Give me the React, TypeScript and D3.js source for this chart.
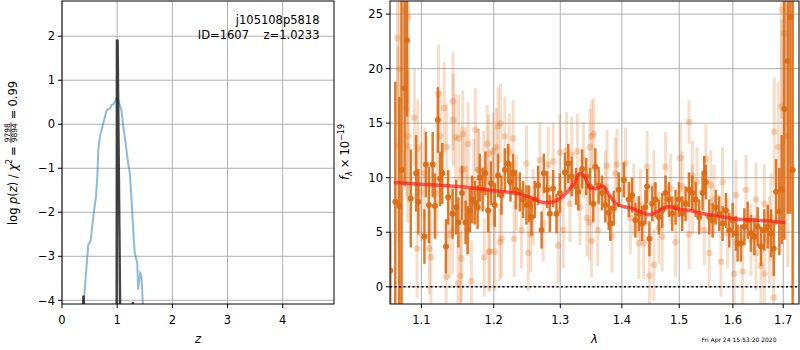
import React, { useEffect, useRef } from "react";
import * as d3 from "d3";

// ---- p(z) panel ----
const zTicks = [0, 1, 2, 3, 4];
const logpTicks = [-4, -3, -2, -1, 0, 1, 2];

// blue: log p(z) of the fit
const zFit = [0.386, 0.43, 0.476, 0.52, 0.567, 0.616, 0.64, 0.658, 0.688, 0.748, 0.81, 0.87, 0.9, 0.93, 0.99, 1.02, 1.08, 1.11, 1.14, 1.2, 1.23, 1.26, 1.3, 1.32, 1.364, 1.38, 1.416, 1.44, 1.47];
const logpFit = [-4.2, -3.46, -2.74, -2.64, -2.1, -1.64, -1.19, -0.58, -0.28, 0.02, 0.32, 0.36, 0.44, 0.45, 0.59, 0.55, 0.3, -0.05, -0.3, -0.9, -1.11, -1.72, -2.6, -2.93, -3.16, -3.76, -3.39, -3.45, -4.2];

// dark: narrow p(z)
const zNarrow = [0.37, 0.388, 0.392, 0.41, 0.99, 0.995, 1.008, 1.06, 1.27, 1.285, 1.3];
const logpNarrow = [-5, -3.92, -3.92, -5, -5, 1.9, 1.9, -5, -5, -4.04, -5];

// ---- spectrum panel ----
const waveTicks = [1.1, 1.2, 1.3, 1.4, 1.5, 1.6, 1.7];
const fluxTicks = [0, 5, 10, 15, 20, 25];

const darkWave = [
  1.0595, 1.066, 1.071, 1.074, 1.078, 1.081, 1.086, 1.093, 1.096, 1.104, 1.106, 1.11, 1.115, 1.118, 1.122, 1.125, 1.128, 1.133, 1.136, 1.142, 1.147, 1.15, 1.155, 1.16, 1.163, 1.166, 1.169, 1.173, 1.177, 1.18, 1.184, 1.188, 1.192, 1.196,
  1.2015, 1.2063, 1.2112, 1.2161, 1.221, 1.2244, 1.2283, 1.2322, 1.2382, 1.2432, 1.2482, 1.2522, 1.2558, 1.2608, 1.2658, 1.2711, 1.2746, 1.2797, 1.2838, 1.2889, 1.2941, 1.2994, 1.3073, 1.3126, 1.318, 1.3249, 1.3286, 1.3346, 1.3413, 1.3473, 1.3527,
  1.356, 1.3614, 1.3669, 1.3724, 1.3781, 1.3807, 1.3864, 1.3948, 1.4033, 1.4117, 1.4173, 1.423, 1.4288, 1.4345, 1.4403, 1.4432, 1.4472, 1.4519, 1.4577, 1.4637, 1.4696, 1.4755, 1.4815, 1.4874, 1.4934, 1.4995, 1.5054, 1.5115, 1.5177, 1.5237, 1.5299,
  1.5365, 1.5427, 1.5458, 1.5489, 1.5552, 1.5614, 1.5677, 1.574, 1.5803, 1.5867, 1.593, 1.5995, 1.6059, 1.6092, 1.6158, 1.6223, 1.6288, 1.6353, 1.6419, 1.6485, 1.6551, 1.6618, 1.6685, 1.6752, 1.6806, 1.6853, 1.692, 1.6968, 1.7023, 1.7091, 1.7146, 1.7194,
];
const darkFlux = [
  1.5, 7.8, 7.4, 10.7, 18.2, 22.6, 8.1, 10.4, 7.8, 4.6, 11.2, 7.5, 11.2, 7.4, 15.3, 9.9, 10.4, 3.7, 8.2, 6.7, 7.3, 5.9, 8.6, 5.9, 5.2, 7.0, 8.0, 7.7, 7.3, 10.0, 8.9, 10.4, 7.0, 9.5,
  7.5, 10.2, 8.4, 10.7, 11.3, 9.6, 10.4, 8.9, 8.7, 8.0, 7.5, 7.6, 6.4, 8.0, 9.3, 5.2, 10.4, 8.9, 6.7, 9.0, 6.7, 8.6, 10.5, 11.3, 10.1, 9.2, 8.7, 10.8, 10.1, 9.2, 7.6,
  11.0, 9.3, 8.6, 7.5, 6.8, 5.8, 7.2, 8.9, 9.8, 8.0, 8.4, 6.1, 6.7, 5.8, 7.3, 9.2, 4.4, 7.6, 8.0, 6.4, 7.0, 8.6, 8.0, 6.7, 7.3, 8.0, 6.7, 7.6, 8.9, 8.6, 8.0,
  6.4, 8.6, 10.4, 9.6, 6.4, 6.1, 7.3, 6.7, 5.8, 7.0, 5.2, 6.1, 4.9, 4.0, 4.0, 5.5, 6.1, 4.9, 4.6, 5.5, 3.7, 5.2, 5.5, 4.9, 3.5, 8.7, 6.9, 8.9, 16.3, 20.7, 24.7, 10.7,
];
const darkErr = [
  3.5, 11, 10, 16, 9, 7, 4.5, 3.5, 3, 2.5, 3, 3.5, 3, 3, 3, 2.5, 2.8, 2.5, 2.5, 2.3, 2.5, 2.3, 2.5, 2.0, 2.2, 2.0, 2.2, 2.0, 2.0, 2.2, 2.0, 2.0, 2.0, 2.0,
  2.0, 2.0, 1.8, 2.0, 1.8, 1.8, 1.8, 1.8, 1.8, 1.7, 1.8, 1.7, 1.7, 1.7, 1.8, 1.7, 1.8, 1.7, 1.7, 1.7, 1.8, 1.8, 1.8, 1.8, 1.8, 1.7, 1.7, 1.8, 1.7, 1.7, 1.7,
  1.7, 1.7, 1.6, 1.6, 1.6, 1.6, 1.6, 1.6, 1.6, 1.6, 1.6, 1.6, 1.6, 1.6, 1.6, 1.6, 1.6, 1.6, 1.6, 1.6, 1.6, 1.6, 1.6, 1.6, 1.6, 1.6, 1.6, 1.6, 1.6, 1.6, 1.6,
  1.6, 1.6, 1.6, 1.6, 1.6, 1.6, 1.6, 1.6, 1.6, 1.6, 1.6, 1.6, 1.6, 1.7, 1.7, 1.7, 1.7, 1.7, 1.7, 1.8, 1.8, 1.9, 2.0, 2.2, 2.5, 3.0, 4.0, 5.0, 12, 14, 18, 30,
];

const lightWave = [
  1.0686, 1.0694, 1.0711, 1.0778, 1.0802, 1.0819, 1.0827, 1.0827, 1.0908, 1.0942, 1.0952, 1.0995, 1.104, 1.1106, 1.1127, 1.1207, 1.1228, 1.1252, 1.1304, 1.1333,
  1.1341, 1.1377, 1.1422, 1.1426, 1.1428, 1.146, 1.1494, 1.1506, 1.1532, 1.1541, 1.1552, 1.1561, 1.1598, 1.1624, 1.1636, 1.1682, 1.1716, 1.1738, 1.1776, 1.1786,
  1.1857, 1.1863, 1.1905, 1.1929, 1.1929, 1.1943, 1.199, 1.199, 1.2015, 1.2039, 1.2063, 1.2088, 1.2098, 1.2112, 1.2161, 1.2225, 1.2283, 1.2298, 1.2331, 1.2407,
  1.2482, 1.2509, 1.2547, 1.2583, 1.2685, 1.2735, 1.2812, 1.2889, 1.2967, 1.2994, 1.3047, 1.3099, 1.3152, 1.318, 1.327, 1.3311, 1.3368, 1.3422, 1.3463, 1.3473,
  1.35, 1.35, 1.3533, 1.36, 1.3724, 1.3752, 1.3835, 1.389, 1.3918, 1.4059, 1.4144, 1.4202, 1.4288, 1.4316, 1.4374, 1.4432, 1.4472, 1.4549, 1.4549, 1.4637,
  1.4696, 1.4755, 1.4845, 1.4934, 1.5022, 1.5054, 1.5177, 1.5177, 1.5237, 1.5243, 1.5323, 1.5458, 1.5489, 1.5552, 1.5582, 1.5642, 1.5772, 1.5803, 1.5899, 1.6027,
  1.6059, 1.619, 1.6255, 1.6353, 1.6451, 1.6451, 1.6551, 1.6618, 1.6618, 1.6719, 1.6752, 1.6806, 1.6817, 1.6898, 1.6968, 1.6968, 1.7023, 1.7091,
];
const lightFlux = [
  22.8, 13.0, 20.0, 25.4, 16.3, 12.9, 24.7, 13.8, 15.5, 3.5, 12.7, 8.7, 10.4, 3.5, 2.7, 8.6, 17.7, 13.8, 16.4, 0.9,
  12.8, 4.8, 5.2, 17.0, 15.3, 13.7, 0.3, 13.6, 1.0, 2.6, 10.7, 14.0, 10.8, 6.6, 13.1, 0.5, 9.8, 14.4, 10.7, 10.7,
  10.7, 2.7, 13.1, 12.2, 3.2, 3.2, 12.4, 9.2, 3.2, 12.8, 14.7, 4.1, 15.0, 4.4, 13.8, 12.4, 13.6, 4.4, 8.6, 5.2,
  11.3, 3.1, 4.8, 7.3, 11.6, 5.8, 11.2, 11.5, 3.8, 12.3, 5.2, 12.5, 7.6, 12.1, 12.4, 7.3, 11.6, 6.3, 5.9, 12.8,
  13.8, 4.2, 14.0, 5.2, 9.2, 11.1, 4.6, 10.4, 11.2, 11.3, 6.3, 8.0, 4.0, 7.5, 4.0, 11.0, 1.0, 9.2, 2.0, 5.4,
  4.6, 11.0, 9.0, 4.1, 11.8, 9.2, 15.1, 4.8, 10.2, 8.0, 9.6, 5.2, 11.7, 3.1, 9.3, 8.0, 2.3, 9.6, 4.9, 1.2,
  8.4, 1.4, 8.9, 4.3, 8.0, 3.1, 1.9, 7.6, 1.2, 4.3, 6.4, -1.0, 14.2, 12.8, 16.5, 25.4, 23.2, 13.8,
];
const lightErr = [
  8, 9, 9, 9, 8, 7, 8, 6, 4.5, 4.5, 4.5, 4.5, 4.2, 4.2, 4.2, 4.2, 4.5, 4.2, 4.2, 4,
  4, 4, 4, 4.5, 4.2, 4, 4, 4, 4, 4, 4, 4, 3.8, 3.8, 3.8, 3.8, 3.8, 3.8, 3.8, 3.8,
  3.6, 3.6, 3.6, 3.6, 3.6, 3.6, 3.6, 3.6, 3.6, 3.6, 3.6, 3.6, 3.6, 3.6, 3.6, 3.5, 3.5, 3.5, 3.5, 3.5,
  3.5, 3.5, 3.5, 3.5, 3.5, 3.5, 3.5, 3.5, 3.5, 3.5, 3.5, 3.5, 3.5, 3.5, 3.5, 3.5, 3.5, 3.5, 3.5, 3.5,
  3.3, 3.3, 3.3, 3.3, 3.3, 3.3, 3.3, 3.3, 3.3, 3.3, 3.3, 3.3, 3.3, 3.3, 3.3, 3.3, 3.3, 3.3, 3.3, 3.3,
  3.2, 3.2, 3.2, 3.2, 3.2, 3.2, 2.0, 3.2, 3.2, 3.2, 3.2, 3.2, 3.2, 3.2, 3.2, 3.2, 3.2, 3.2, 3.2, 3.2,
  3.2, 3.2, 3.2, 3.3, 3.4, 3.4, 3.5, 3.6, 3.6, 4, 4, 4.5, 5, 6, 8, 10, 10, 12,
];

const modelWave = [1.064, 1.1, 1.156, 1.2, 1.233, 1.258, 1.276, 1.29, 1.306, 1.323, 1.331, 1.34, 1.348, 1.359, 1.368, 1.379, 1.39, 1.4, 1.417, 1.432, 1.447, 1.458, 1.47, 1.482, 1.5, 1.523, 1.547, 1.577, 1.602, 1.639, 1.671, 1.704];
const modelFlux = [9.57, 9.41, 9.17, 8.8, 8.56, 8.1, 7.7, 7.8, 8.4, 9.63, 10.4, 9.94, 9.02, 9.02, 9.23, 8.41, 7.65, 7.4, 7.19, 6.88, 6.6, 6.79, 7.19, 7.34, 7.1, 6.97, 6.67, 6.43, 6.24, 6.12, 6.03, 5.88];

const FONT = "DejaVu Sans, sans-serif";
const FS = 11.5;
const GRID = "#b0b0b0";
const ORANGE = "#dc6b14";

const fmt = (t: number) => (t < 0 ? "\u2212" + Math.abs(t) : String(t));

type Piece = { text?: string; italic?: boolean; size?: number; dy?: number; gap?: number; frac?: [string, string] };

// rotated label made of pieces, centred on (x, y), baseline at x
function rotLabel(parent: any, x: number, y: number, pieces: Piece[]) {
  const g = parent.append("g").attr("transform", `translate(${x},${y}) rotate(-90)`);
  const inner = g.append("g");
  let cx = 0;
  pieces.forEach((p) => {
    if (p.gap) {
      cx += p.gap;
      return;
    }
    if (p.frac) {
      const s = p.size || 7;
      const a = inner.append("text").attr("font-size", s).attr("text-anchor", "middle").attr("y", -7.3).text(p.frac[0]);
      const b = inner.append("text").attr("font-size", s).attr("text-anchor", "middle").attr("y", 0).text(p.frac[1]);
      const w = Math.max((a.node() as SVGTextElement).getComputedTextLength(), (b.node() as SVGTextElement).getComputedTextLength());
      a.attr("x", cx + w / 2 + 1);
      b.attr("x", cx + w / 2 + 1);
      inner.append("line").attr("x1", cx).attr("x2", cx + w + 2).attr("y1", -6).attr("y2", -6).attr("stroke", "#000").attr("stroke-width", 0.7);
      cx += w + 2;
      return;
    }
    const t = inner
      .append("text")
      .attr("x", cx)
      .attr("y", p.dy || 0)
      .attr("font-size", p.size || FS)
      .attr("font-style", p.italic ? "italic" : "normal")
      .text(p.text!);
    cx += (t.node() as SVGTextElement).getComputedTextLength();
  });
  inner.attr("transform", `translate(${-cx / 2},0)`);
}

function drawPz(svg: any) {
  const L = 62, R = 334, T = 1, B = 304;
  const x = d3.scaleLinear().domain([0, 4.93]).range([L, R]);
  const y = d3.scaleLinear().domain([-4.084, 2.8]).range([B, T]);

  svg.append("clipPath").attr("id", "clipPz").append("rect").attr("x", L).attr("y", T).attr("width", R - L).attr("height", B - T);

  const g = svg.append("g");
  g.selectAll(".gx").data(zTicks).enter().append("line")
    .attr("x1", (d: number) => x(d)).attr("x2", (d: number) => x(d)).attr("y1", T).attr("y2", B)
    .attr("stroke", GRID).attr("stroke-width", 1);
  g.selectAll(".gy").data(logpTicks).enter().append("line")
    .attr("x1", L).attr("x2", R).attr("y1", (d: number) => y(d)).attr("y2", (d: number) => y(d))
    .attr("stroke", GRID).attr("stroke-width", 1);

  const data = g.append("g").attr("clip-path", "url(#clipPz)");
  const line = d3.line<[number, number]>().x((d) => x(d[0])).y((d) => y(d[1]));
  data.append("path").attr("d", line(zFit.map((z, i) => [z, logpFit[i]]))!)
    .attr("fill", "none").attr("stroke", "#1f77b4").attr("stroke-opacity", 0.5).attr("stroke-width", 2);
  data.append("path").attr("d", line(zNarrow.map((z, i) => [z, logpNarrow[i]]))!)
    .attr("fill", "#000").attr("fill-opacity", 0.08)
    .attr("stroke", "#222").attr("stroke-opacity", 0.85).attr("stroke-width", 2.4);

  g.append("rect").attr("x", L).attr("y", T).attr("width", R - L).attr("height", B - T)
    .attr("fill", "none").attr("stroke", "#000").attr("stroke-width", 1);

  zTicks.forEach((t) => {
    g.append("line").attr("x1", x(t)).attr("x2", x(t)).attr("y1", B).attr("y2", B + 4).attr("stroke", "#000");
    g.append("text").attr("x", x(t)).attr("y", 324).attr("text-anchor", "middle").attr("font-size", FS).text(fmt(t));
  });
  logpTicks.forEach((t) => {
    g.append("line").attr("x1", L - 4).attr("x2", L).attr("y1", y(t)).attr("y2", y(t)).attr("stroke", "#000");
    g.append("text").attr("x", L - 7).attr("y", y(t) + 4.2).attr("text-anchor", "end").attr("font-size", FS).text(fmt(t));
  });

  g.append("text").attr("x", (L + R) / 2).attr("y", 343).attr("text-anchor", "middle").attr("font-size", FS).attr("font-style", "italic").text("z");

  g.append("text").attr("x", 319.5).attr("y", 24).attr("text-anchor", "end").attr("font-size", FS).text("j105108p5818");
  g.append("text").attr("x", 319.5).attr("y", 38.5).attr("text-anchor", "end").attr("font-size", FS)
    .text("ID=1607\u00a0\u00a0\u00a0\u00a0z=1.0233");

  rotLabel(svg, 17, 153, [
    { text: "log" }, { gap: 3.5 }, { text: "p", italic: true }, { text: "(" }, { text: "z", italic: true }, { text: ")" },
    { gap: 3.5 }, { text: "/" }, { gap: 3.5 }, { text: "\u03c7", italic: true }, { text: "2", size: 8, dy: -5 },
    { gap: 3 }, { text: "=" }, { gap: 3 }, { frac: ["9798", "9894"], size: 7.5 }, { gap: 3 }, { text: "=" }, { gap: 3 }, { text: "0.99" },
  ]);
}

function drawSpec(svg: any) {
  const L = 390, R = 799, T = 1, B = 304;
  const x = d3.scaleLog().domain([1.0592, 1.7325]).range([L, R]);
  const y = d3.scaleLinear().domain([-1.58, 26.2]).range([B, T]);

  svg.append("clipPath").attr("id", "clipSp").append("rect").attr("x", L).attr("y", T).attr("width", R - L).attr("height", B - T);

  const g = svg.append("g");
  g.selectAll(".gx").data(waveTicks).enter().append("line")
    .attr("x1", (d: number) => x(d)).attr("x2", (d: number) => x(d)).attr("y1", T).attr("y2", B)
    .attr("stroke", GRID).attr("stroke-width", 1);
  g.selectAll(".gy").data(fluxTicks).enter().append("line")
    .attr("x1", L).attr("x2", R).attr("y1", (d: number) => y(d)).attr("y2", (d: number) => y(d))
    .attr("stroke", GRID).attr("stroke-width", 1);

  const data = g.append("g").attr("clip-path", "url(#clipSp)");

  const light = lightWave.map((w, i) => ({ w, f: lightFlux[i], e: lightErr[i] }));
  const dark = darkWave.map((w, i) => ({ w, f: darkFlux[i], e: darkErr[i] }));

  data.selectAll(".lb").data(light).enter().append("line")
    .attr("x1", (d: any) => x(d.w)).attr("x2", (d: any) => x(d.w))
    .attr("y1", (d: any) => y(d.f - d.e)).attr("y2", (d: any) => y(d.f + d.e))
    .attr("stroke", ORANGE).attr("stroke-opacity", 0.22).attr("stroke-width", 3);
  data.selectAll(".lm").data(light).enter().append("circle")
    .attr("cx", (d: any) => x(d.w)).attr("cy", (d: any) => y(d.f)).attr("r", 3.3)
    .attr("fill", ORANGE).attr("fill-opacity", 0.27);

  data.selectAll(".db").data(dark).enter().append("line")
    .attr("x1", (d: any) => x(d.w)).attr("x2", (d: any) => x(d.w))
    .attr("y1", (d: any) => y(d.f - d.e)).attr("y2", (d: any) => y(d.f + d.e))
    .attr("stroke", ORANGE).attr("stroke-opacity", 0.9).attr("stroke-width", 2.5);
  data.selectAll(".dm").data(dark).enter().append("circle")
    .attr("cx", (d: any) => x(d.w)).attr("cy", (d: any) => y(d.f)).attr("r", 3)
    .attr("fill", ORANGE).attr("fill-opacity", 0.95);

  const line = d3.line<[number, number]>().x((d) => x(d[0])).y((d) => y(d[1])).curve(d3.curveMonotoneX);
  data.append("path").attr("d", line(modelWave.map((w, i) => [w, modelFlux[i]]))!)
    .attr("fill", "none").attr("stroke", "#ff1a1a").attr("stroke-opacity", 0.7).attr("stroke-width", 3.5);

  data.append("line").attr("x1", L).attr("x2", R).attr("y1", y(0)).attr("y2", y(0))
    .attr("stroke", "#000").attr("stroke-width", 1.6).attr("stroke-dasharray", "2,2.5");

  g.append("rect").attr("x", L).attr("y", T).attr("width", R - L).attr("height", B - T)
    .attr("fill", "none").attr("stroke", "#000").attr("stroke-width", 1);

  waveTicks.forEach((t) => {
    g.append("line").attr("x1", x(t)).attr("x2", x(t)).attr("y1", B).attr("y2", B + 4).attr("stroke", "#000");
    g.append("text").attr("x", x(t)).attr("y", 324).attr("text-anchor", "middle").attr("font-size", FS).text(t.toFixed(1));
  });
  fluxTicks.forEach((t) => {
    g.append("line").attr("x1", L - 4).attr("x2", L).attr("y1", y(t)).attr("y2", y(t)).attr("stroke", "#000");
    g.append("text").attr("x", L - 7).attr("y", y(t) + 4.2).attr("text-anchor", "end").attr("font-size", FS).text(fmt(t));
  });

  g.append("text").attr("x", (L + R) / 2).attr("y", 343).attr("text-anchor", "middle").attr("font-size", FS).attr("font-style", "italic").text("\u03bb");

  rotLabel(svg, 349, 152, [
    { text: "f", italic: true }, { text: "\u03bb", italic: true, size: 8, dy: 2.5 }, { gap: 3 }, { text: "\u00d7" }, { gap: 3 },
    { text: "10" }, { text: "\u221219", size: 8, dy: -5 },
  ]);
}

export default function App() {
  const ref = useRef<SVGSVGElement>(null);
  useEffect(() => {
    const svg = d3.select(ref.current);
    svg.selectAll("*").remove();
    drawPz(svg);
    drawSpec(svg);
    svg.append("text").attr("x", 701.5).attr("y", 341.5).attr("font-size", 6).text("Fri Apr 24 15:53:20 2020");
  }, []);
  return (
    <svg
      ref={ref}
      width={800}
      height={350}
      fontFamily={FONT}
      style={{ position: "absolute", left: 0, top: 0, background: "#fff" }}
    />
  );
}
